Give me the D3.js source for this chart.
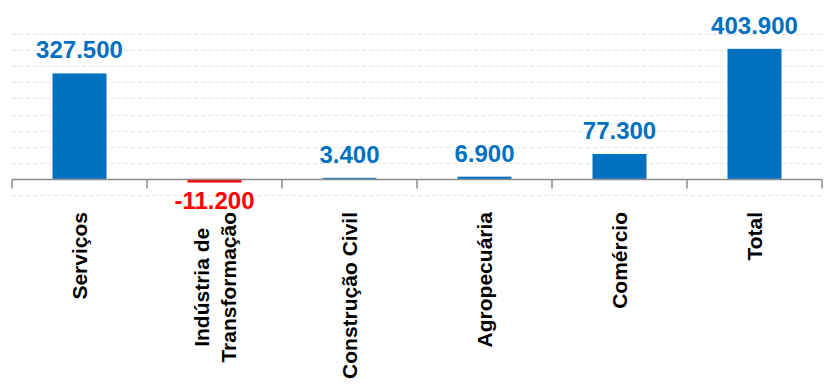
<!DOCTYPE html>
<html lang="pt">
<head>
    <meta charset="UTF-8">
    <title>Saldo por setor</title>
    <style>
        body {
            margin: 0;
            padding: 0;
            background: #fff;
            overflow: hidden;
        }

        .grid line {
            stroke: #e6e6e6;
            stroke-width: 1px;
            stroke-dasharray: 4 3;
        }

        .axis-line {
            stroke: #8c8c8c;
            stroke-width: 1.5px;
        }

        .value-label {
            font-family: "Liberation Sans", Arial, sans-serif;
            font-weight: bold;
            font-size: 24px;
            text-anchor: middle;
        }

        .cat-label {
            font-family: "Liberation Sans", Arial, sans-serif;
            font-weight: bold;
            font-size: 21px;
            fill: #000;
        }
    </style>
</head>
<body>
    <script src="https://d3js.org/d3.v7.min.js"></script>
    <script>
        // data
        const categories = ["Serviços", "Indústria de\nTransformação", "Construção Civil", "Agropecuária", "Comércio", "Total"];
        const values = [327500, -11200, 3400, 6900, 77300, 403900];
        const valueLabels = ["327.500", "-11.200", "3.400", "6.900", "77.300", "403.900"];
        const gridTicks = [-50000, 0, 50000, 100000, 150000, 200000, 250000, 300000, 350000, 400000, 450000];

        const width = 830;
        const height = 389;

        const svg = d3.select("body").append("svg")
            .attr("width", width)
            .attr("height", height);

        const x = d3.scaleBand()
            .domain(d3.range(categories.length))
            .range([12, 822])
            .padding(0);

        const y = d3.scaleLinear()
            .domain([-50000, 450000])
            .range([195, 34]);

        const barW = x.bandwidth() * 0.4;

        // dashed gridlines
        svg.append("g")
            .attr("class", "grid")
            .selectAll("line")
            .data(gridTicks.filter(d => d !== 0))
            .enter().append("line")
            .attr("x1", 12)
            .attr("x2", 822)
            .attr("y1", d => Math.round(y(d)) + 0.5)
            .attr("y2", d => Math.round(y(d)) + 0.5);

        // bars
        svg.append("g")
            .selectAll("rect")
            .data(values)
            .enter().append("rect")
            .attr("x", (d, i) => x(i) + (x.bandwidth() - barW) / 2)
            .attr("width", barW)
            .attr("y", d => y(Math.max(0, d)))
            .attr("height", d => Math.abs(y(d) - y(0)))
            .attr("fill", d => d < 0 ? "#ff0000" : "#0070c0");

        // category axis with separator ticks
        const y0 = Math.round(y(0)) + 0.5;
        svg.append("line")
            .attr("class", "axis-line")
            .attr("x1", 12)
            .attr("x2", 822)
            .attr("y1", y0)
            .attr("y2", y0);

        svg.append("g")
            .selectAll("line")
            .data(d3.range(categories.length + 1))
            .enter().append("line")
            .attr("class", "axis-line")
            .attr("x1", i => 12 + i * x.step())
            .attr("x2", i => 12 + i * x.step())
            .attr("y1", y0)
            .attr("y2", y0 + 9);

        // value labels
        svg.append("g")
            .selectAll("text")
            .data(values)
            .enter().append("text")
            .attr("class", "value-label")
            .attr("x", (d, i) => x(i) + x.bandwidth() / 2)
            .attr("y", d => d < 0 ? y(d) + 26 : y(d) - 15)
            .attr("fill", d => d < 0 ? "#ff0000" : "#0070c0")
            .text((d, i) => valueLabels[i]);

        // rotated category labels, longest line starts at the same top edge
        const labelTop = 212;
        const lineGap = 27;
        categories.forEach((c, i) => {
            const lines = c.split("\n");
            const cx = x(i) + x.bandwidth() / 2;
            const t = svg.append("text")
                .attr("class", "cat-label")
                .attr("text-anchor", "middle");
            lines.forEach((ln, k) => {
                t.append("tspan")
                    .attr("x", 0)
                    .attr("y", 7.5 + (k - (lines.length - 1) / 2) * lineGap)
                    .text(ln);
            });
            let maxLen = 0;
            t.selectAll("tspan").each(function () {
                maxLen = Math.max(maxLen, this.getComputedTextLength());
            });
            t.attr("transform", `translate(${cx},${labelTop + maxLen / 2}) rotate(-90)`);
        });
    </script>
</body>
</html>
